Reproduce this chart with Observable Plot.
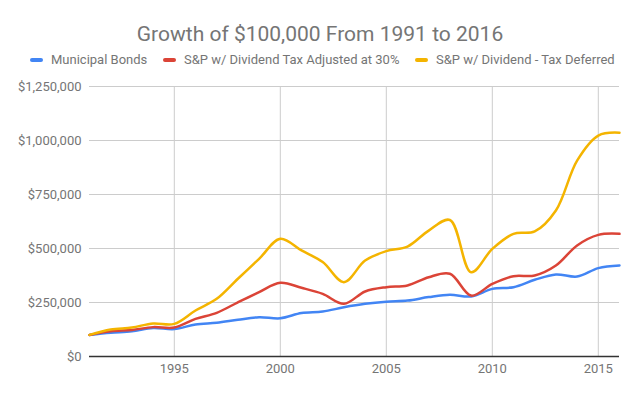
<!DOCTYPE html>
<html>
<head>
<meta charset="utf-8">
<script src="https://cdn.jsdelivr.net/npm/d3@7"></script>
<script src="https://cdn.jsdelivr.net/npm/@observablehq/plot@0.6"></script>
<style>
  body { margin: 0; background: #fff; font-family: Roboto, "Noto Sans", sans-serif; }
  #wrap { position: relative; width: 640px; height: 396px; }
  #title { position: absolute; left: 0; top: 22px; width: 640px; text-align: center; font-size: 21px; color: #757575; }
  #legend { position: absolute; left: 0; top: 51px; width: 640px; height: 18px; font-size: 13px; color: #757575; }
  .item { position: absolute; top: 0; white-space: nowrap; line-height: 18px; }
  .sw { display: inline-block; width: 13px; height: 4px; border-radius: 2px; vertical-align: middle; margin-right: 8px; position: relative; top: -1px; }
  #chart { position: absolute; left: 0; top: 0; }
</style>
</head>
<body>
<div id="wrap">
  <div id="chart"></div>
  <div id="title">Growth of $100,000 From 1991 to 2016</div>
  <div id="legend"></div>
</div>
<script>
const years = [1991,1992,1993,1994,1995,1996,1997,1998,1999,2000,2001,2002,2003,2004,2005,2006,2007,2008,2009,2010,2011,2012,2013,2014,2015,2016];
const municipalBonds = [100000,110000,117000,132000,127000,148000,156000,170000,182000,177000,201000,208000,228000,244000,254000,259000,275000,286000,278000,313000,321000,355000,380000,370000,409000,421000];
const spTaxAdjusted = [100000,117000,123000,136000,134000,174000,202000,251000,298000,341000,318000,290000,244000,301000,321000,329000,367000,383000,282000,336000,372000,375000,421000,514000,563000,568000];
const spTaxDeferred = [100000,125000,134000,153000,151000,213000,267000,360000,452000,545000,491000,437000,344000,444000,488000,509000,583000,632000,390000,498000,568000,579000,676000,907000,1023000,1036000];
const seriesNames = ["Municipal Bonds", "S&P w/ Dividend Tax Adjusted at 30%", "S&P w/ Dividend - Tax Deferred"];
const seriesColors = ["#4285F4", "#DB4437", "#F4B400"];
const xTicks = [1995, 2000, 2005, 2010, 2015];
const yTicks = [0, 250000, 500000, 750000, 1000000, 1250000];

const seriesValues = [municipalBonds, spTaxAdjusted, spTaxDeferred];
const data = [];
seriesValues.forEach((vals, i) => vals.forEach((v, j) => data.push({year: years[j], value: v, series: seriesNames[i]})));

const chart = Plot.plot({
  width: 640,
  height: 396,
  marginTop: 86,
  marginBottom: 40,
  marginLeft: 89,
  marginRight: 21,
  style: { fontFamily: "Roboto, sans-serif", fontSize: "13px", color: "#757575", background: "#fff" },
  x: { domain: [1991, 2016], ticks: xTicks, tickFormat: d => String(d), tickSize: 0, tickPadding: 7, label: null },
  y: { domain: [0, 1250000], ticks: yTicks, tickFormat: d3.format("$,"), tickSize: 0, tickPadding: 8, label: null },
  color: { domain: seriesNames, range: seriesColors },
  marks: [
    Plot.ruleY(yTicks.filter(d => d > 0), { stroke: "#cccccc", strokeWidth: 1 }),
    Plot.ruleX(xTicks, { stroke: "#cccccc", strokeWidth: 1 }),
    Plot.axisX({ ticks: xTicks, tickFormat: d => String(d), tickSize: 0, tickPadding: 7, fill: "#757575" }),
    Plot.axisY({ ticks: yTicks, tickFormat: d3.format("$,"), tickSize: 0, tickPadding: 8, fill: "#757575" }),
    Plot.line(data, { x: "year", y: "value", z: "series", stroke: "series", strokeWidth: 2.5, curve: "catmull-rom" }),
    Plot.ruleY([0], { stroke: "#333333", strokeWidth: 1.5 })
  ]
});
document.getElementById("chart").appendChild(chart);

const legend = document.getElementById("legend");
const lefts = [30, 163, 415];
seriesNames.forEach((name, i) => {
  const item = document.createElement("div");
  item.className = "item";
  item.style.left = lefts[i] + "px";
  const sw = document.createElement("span");
  sw.className = "sw";
  sw.style.background = seriesColors[i];
  item.appendChild(sw);
  item.appendChild(document.createTextNode(name));
  legend.appendChild(item);
});
</script>
</body>
</html>
